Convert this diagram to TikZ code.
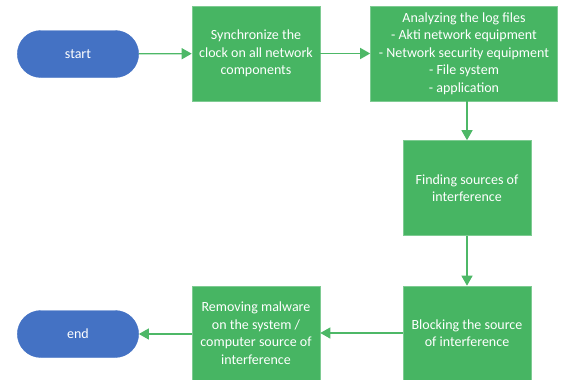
\documentclass[tikz,border=0pt]{standalone}
\usepackage{fontspec}
\setmainfont{Carlito}
\usetikzlibrary{positioning,arrows.meta,shapes.misc}
\definecolor{boxgreen}{HTML}{47B563}
\definecolor{termblue}{HTML}{4472C4}
\definecolor{linegreen}{HTML}{4DB867}
\tikzset{
  stepbox/.style={fill=boxgreen, draw=boxgreen!70!white, line width=0.6pt, text=white,
    minimum width=128pt, minimum height=95pt, align=center, inner sep=1pt},
  termbox/.style={rounded rectangle, fill=termblue, draw=termblue, text=white,
    minimum width=128pt, minimum height=47pt},
  flow/.style={draw=linegreen, line width=1.3pt, -{Triangle[length=10pt,width=11pt]}}
}

\begin{document}
\begin{tikzpicture}[x=1pt, y=-1pt, font=\fontsize{14}{17.5}\selectfont]
\useasboundingbox (0,0) rectangle (565,380);
% --- top row ---
\node[termbox] (start) at (78,54) {start};
\node[stepbox] (sync) at (256,53.5) {Synchronize the\\clock on all network\\components};
\node[stepbox, minimum width=187pt] (logs) at (464,53.5) {Analyzing the log files\\- Akti network equipment\\- Network security equipment\\- File system\\- application};
% --- right column ---
\node[stepbox] (find) at (467,188) {Finding sources of\\interference};
\node[stepbox, minimum height=94pt] (block) at (467,333) {Blocking the source\\of interference};
% --- bottom row ---
\node[stepbox, minimum height=94pt] (remove) at (256,333) {Removing malware\\on the system /\\computer source of\\interference};
\node[termbox] (end) at (78,334) {end};
% --- connectors ---
\draw[flow] (start) -- (sync);
\draw[flow] (sync) -- (logs);
\draw[flow] (find.north |- logs.south) -- (find.north);
\draw[flow] (find) -- (block);
\draw[flow] (block.west |- remove.east) -- (remove.east);
\draw[flow] (remove.west |- end.east) -- (end.east);
\end{tikzpicture}
\end{document}
